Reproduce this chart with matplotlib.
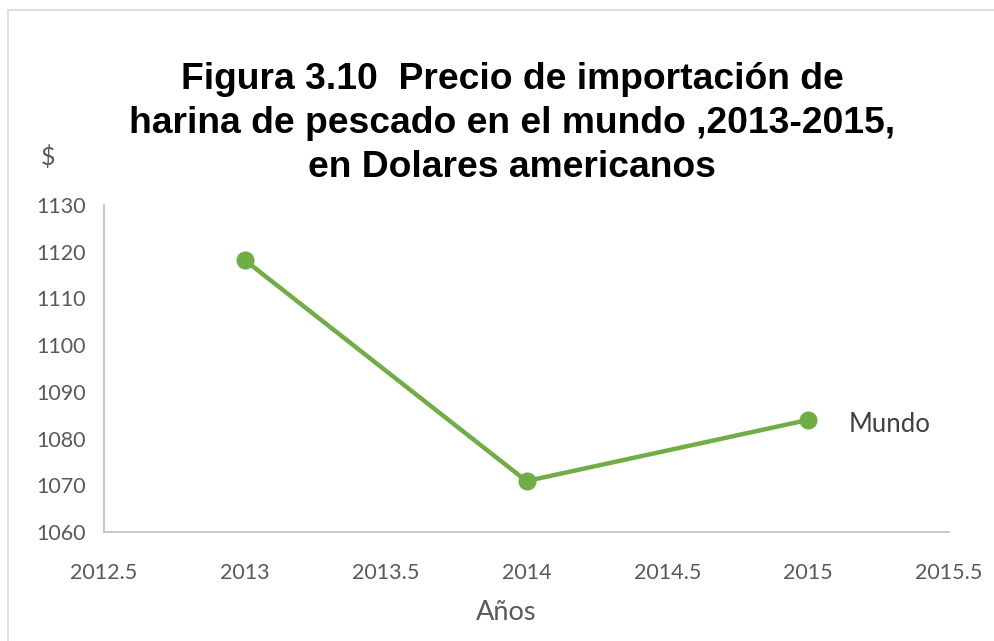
import matplotlib
matplotlib.use("Agg")
import matplotlib.pyplot as plt
from matplotlib.patches import Rectangle
from matplotlib import font_manager

years = [2013, 2014, 2015]
prices = [1118.2, 1070.9, 1084.0]
series_name = "Mundo"
xticks = [2012.5, 2013, 2013.5, 2014, 2014.5, 2015, 2015.5]
yticks = [1060, 1070, 1080, 1090, 1100, 1110, 1120, 1130]
title = "Figura 3.10  Precio de importación de\nharina de pescado en el mundo ,2013-2015,\nen Dolares americanos"

avail = {f.name for f in font_manager.fontManager.ttflist}
title_font = "Liberation Sans Narrow" if "Liberation Sans Narrow" in avail else "Liberation Sans"
tick_font = ["Lato", "DejaVu Sans"]

W, H = 994, 641
fig = plt.figure(figsize=(W / 100, H / 100), dpi=100)

# outer border
fig.patches.append(Rectangle((8 / W, -0.05), 1.1, 1 - 10 / H + 0.05, transform=fig.transFigure,
                             fill=False, edgecolor="#d9d9d9", linewidth=1.2))

ax = fig.add_axes([104 / W, 1 - 532 / H, (949 - 104) / W, (532 - 205) / H])
green = "#70ad47"
ax.plot(years, prices, color=green, linewidth=3.2, marker="o", markersize=12, solid_capstyle="round")
ax.set_xlim(2012.5, 2015.5)
ax.set_ylim(1060, 1130)
ax.set_xticks(xticks)
ax.set_xticklabels([f"{t:g}" for t in xticks])
ax.set_yticks(yticks)
for s in ["top", "right"]:
    ax.spines[s].set_visible(False)
for s in ["left", "bottom"]:
    ax.spines[s].set_color("#bfbfbf")
    ax.spines[s].set_linewidth(1.2)
ax.tick_params(length=0, labelsize=15.5, colors="#595959")
for lab in ax.get_xticklabels() + ax.get_yticklabels():
    lab.set_family(tick_font)
ax.tick_params(axis="y", pad=13)
ax.tick_params(axis="x", pad=22)

ax.annotate(series_name, xy=(years[-1], prices[-1]), xytext=(29, -3), textcoords="offset points",
            fontsize=18.5, color="#404040", family=tick_font, va="center", ha="left")

fig.text(512 / W, 1 - 123.5 / H, title, ha="center", va="center", fontsize=26.8, fontweight="bold",
         family=title_font, linespacing=1.33)
fig.text(48 / W, 1 - 157 / H, "$", ha="center", va="center", fontsize=18, color="#595959", family=tick_font)
fig.text(506 / W, 1 - 612 / H, "Años", ha="center", va="center", fontsize=19.5, color="#595959", family=tick_font)

fig.savefig("out.png", dpi=100)
